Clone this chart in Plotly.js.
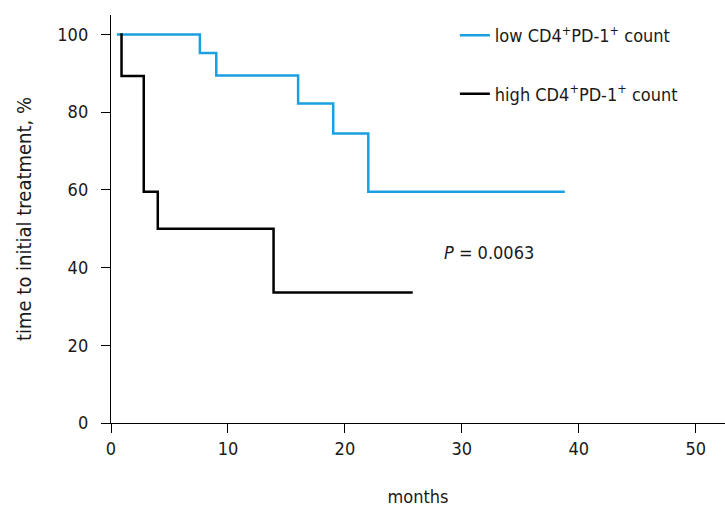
<!DOCTYPE html>
<html>
<head>
<meta charset="utf-8">
<script src="https://cdn.plot.ly/plotly-3.0.1.min.js"></script>
<style>html,body{margin:0;padding:0;background:#fff;}#chart{width:725px;height:510px;}</style>
</head>
<body>
<div id="chart"></div>
<script>
// Kaplan-Meier style step data (months, %)
const lowMonths  = [0.5, 7.6, 9.0, 16.0, 19.0, 22.0, 38.8];
const lowValues  = [100, 95.2, 89.4, 82.2, 74.5, 59.5, 59.5];
const highMonths = [0.8, 0.9, 2.8, 4.0, 13.9, 25.8];
const highValues = [100, 89.3, 59.5, 50.0, 33.6, 33.6];
const seriesNames = ["low CD4<sup>+</sup>PD-1<sup>+</sup> count", "high CD4<sup>+</sup>PD-1<sup>+</sup> count"];
const xTicks = [0, 10, 20, 30, 40, 50];
const yTicks = [0, 20, 40, 60, 80, 100];
const pLabel = "<i>P</i> = 0.0063";

const FONT = "'DejaVu Sans Condensed', 'Liberation Sans Narrow', 'Open Sans', sans-serif";

const traces = [
  {x: lowMonths, y: lowValues, name: seriesNames[0], mode: "lines",
   line: {shape: "hv", color: "#1a9fe0", width: 2.5}, legendgroup: "a"},
  {x: highMonths, y: highValues, name: seriesNames[1], mode: "lines",
   line: {shape: "hv", color: "#000000", width: 2.5}, legendgroup: "b"}
];

const layout = {
  width: 725, height: 510,
  margin: {l: 111, r: 0, t: 15, b: 87},
  paper_bgcolor: "#fff", plot_bgcolor: "#fff",
  font: {family: FONT, size: 18, color: "#1a1a1a"},
  showlegend: true,
  legend: {x: 0.56, y: 0.995, xanchor: "left", yanchor: "top",
           tracegroupgap: 32, itemwidth: 30, font: {size: 18, family: FONT, color: "#1a1a1a"},
           bgcolor: "rgba(0,0,0,0)"},
  xaxis: {range: [0, 52.5], tickvals: xTicks, ticks: "outside", ticklen: 9, tickwidth: 1,
          tickcolor: "#000", showline: true, linecolor: "#000", linewidth: 1.2,
          showgrid: false, zeroline: false, fixedrange: true,
          tickfont: {size: 18, family: FONT},
          title: {text: "months", standoff: 32, font: {size: 18, family: FONT}}},
  yaxis: {range: [0, 105], tickvals: yTicks, ticks: "outside", ticklen: 9, tickwidth: 1,
          tickcolor: "#000", showline: true, linecolor: "#000", linewidth: 1.2,
          showgrid: false, zeroline: false, fixedrange: true, ticklabelstandoff: 9,
          tickfont: {size: 18, family: FONT},
          title: {text: "time to initial treatment, %", standoff: 20, font: {size: 20, family: FONT}}},
  annotations: [
    {x: 28.3, y: 44, xref: "x", yref: "y", text: pLabel, showarrow: false,
     xanchor: "left", font: {size: 18, family: FONT, color: "#1a1a1a"}}
  ]
};

Plotly.newPlot("chart", traces, layout, {displayModeBar: false, staticPlot: true});
</script>
</body>
</html>
